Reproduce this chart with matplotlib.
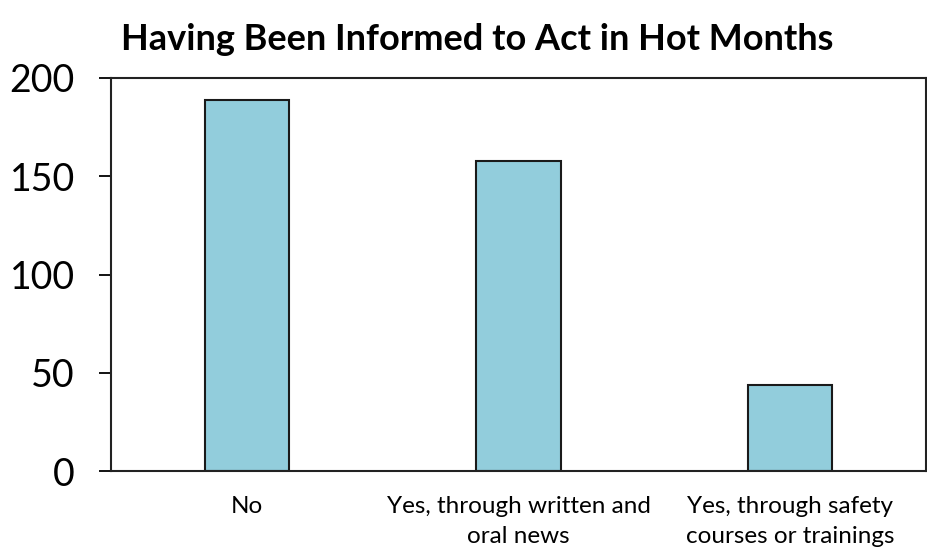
import numpy as np
import matplotlib
matplotlib.use('Agg')
import matplotlib.pyplot as plt

# data
categories = ['No', 'Yes, through written and\noral news', 'Yes, through safety\ncourses or trainings']
counts = [189, 158, 44]
y_ticks = [0, 50, 100, 150, 200]

plt.rcParams['font.family'] = ['Lato', 'DejaVu Sans']

fig = plt.figure(figsize=(9.27, 5.58), dpi=100)
ax = fig.add_axes([111/927, 87/558, 815/927, 393/558])

x = np.arange(len(categories))
ax.bar(x, counts, width=0.31, color='#92CDDC', edgecolor='#1a1a1a', linewidth=1.5, zorder=2)

ax.set_xlim(-0.5, len(categories) - 0.5)
ax.set_ylim(0, 200)
ax.set_yticks(y_ticks)
ax.set_xticks(x)
ax.set_xticklabels(categories, fontsize=17.5, linespacing=1.55)
ax.tick_params(axis='y', labelsize=27, length=9, width=1.3, direction='out', pad=17)
ax.tick_params(axis='x', length=0, pad=18)

for side in ['left', 'bottom', 'top', 'right']:
    ax.spines[side].set_linewidth(1.5)
    ax.spines[side].set_color('#222222')

fig.text(477/927, 1 - 39/558, 'Having Been Informed to Act in Hot Months',
         ha='center', va='center', fontsize=26, fontweight='bold')

fig.savefig('out.png', dpi=100)
